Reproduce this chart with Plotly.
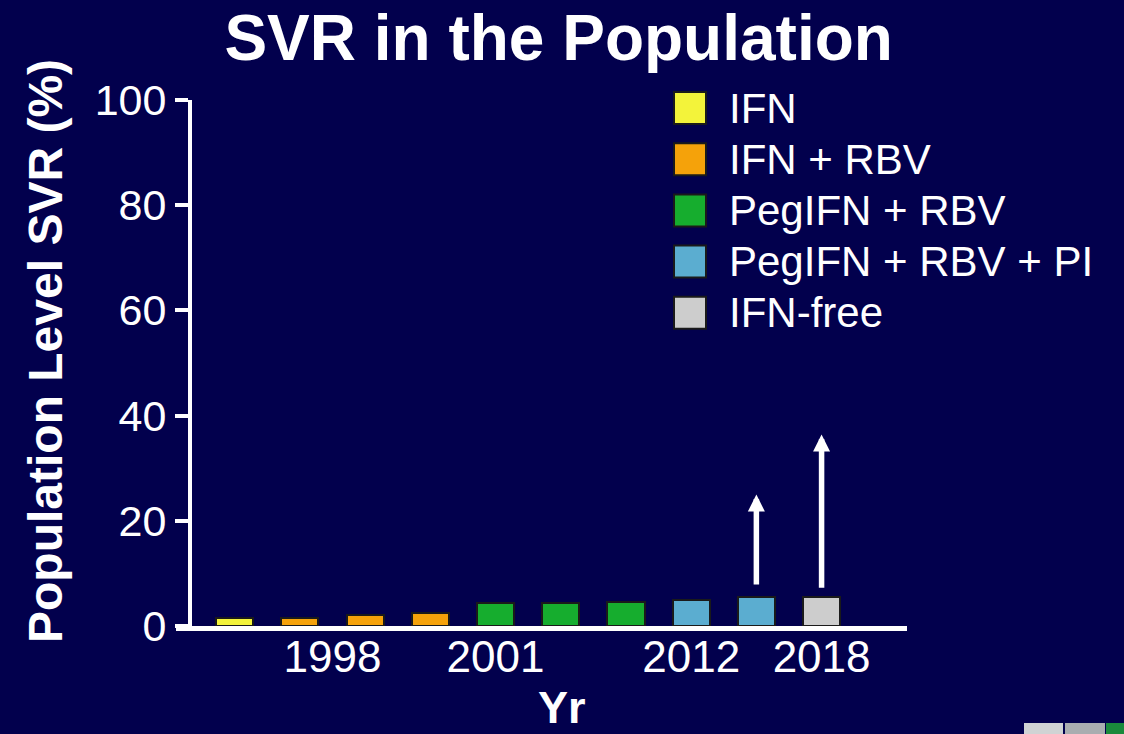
import plotly.graph_objects as go

# bar data
bar_pos = [0, 1, 2, 3, 4, 5, 6, 7, 8, 9]
bar_regimen = ["IFN", "IFN + RBV", "IFN + RBV", "IFN + RBV",
               "PegIFN + RBV", "PegIFN + RBV", "PegIFN + RBV",
               "PegIFN + RBV + PI", "PegIFN + RBV + PI", "IFN-free"]
svr_values = [1.6, 1.5, 2.0, 2.4, 4.4, 4.4, 4.6, 4.9, 5.5, 5.5]

# year tick labels
year_pos = [1.5, 4, 7, 9]
year_labels = ["1998", "2001", "2012", "2018"]

# upward arrows (bar position, start %, end %)
arrow_pos = [8, 9]
arrow_start = [7.6, 7.0]
arrow_end = [25.0, 36.4]

# legend
legend_names = ["IFN", "IFN + RBV", "PegIFN + RBV", "PegIFN + RBV + PI", "IFN-free"]
legend_colors = ["#f3f33a", "#f5a20a", "#16ad2e", "#5badd0", "#cdcdcd"]

BG = "#02004d"
FONT = "Liberation Sans, Arial, sans-serif"
W, H = 1124, 734
L, R, T, B = 176, 907, 100, 626
PW, PH = R - L, B - T


def px_x(px):
    return (px - L) / PW


def px_y(py):
    return (B - py) / PH


color_map = dict(zip(legend_names, legend_colors))

fig = go.Figure()
fig.add_trace(
    go.Bar(
        x=bar_pos,
        y=svr_values,
        width=0.57,
        marker=dict(
            color=[color_map[r] for r in bar_regimen],
            line=dict(color="#1a1a1a", width=2),
        ),
        showlegend=False,
        hoverinfo="skip",
    )
)

# arrows
for xp, y0, y1 in zip(arrow_pos, arrow_start, arrow_end):
    fig.add_annotation(
        x=xp, y=y1, ax=xp, ay=y0,
        xref="x", yref="y", axref="x", ayref="y",
        text="", showarrow=True,
        arrowhead=2, arrowsize=0.62, arrowwidth=5.5,
        arrowcolor="white",
    )

# hand-drawn legend
row_y0 = 108
row_step = 51.2
for i, (name, col) in enumerate(zip(legend_names, legend_colors)):
    cy = row_y0 + i * row_step
    fig.add_shape(
        type="rect", xref="paper", yref="paper",
        x0=px_x(674), x1=px_x(706),
        y0=px_y(cy + 16), y1=px_y(cy - 16),
        fillcolor=col, line=dict(color="#1a1a1a", width=2),
    )
    fig.add_annotation(
        x=px_x(727), y=px_y(cy), xref="paper", yref="paper",
        text=name, showarrow=False, xanchor="left", yanchor="middle",
        font=dict(family=FONT, size=42, color="white"),
    )

# y-axis title
fig.add_annotation(
    x=px_x(45), y=px_y(351), xref="paper", yref="paper",
    text="<b>Population Level SVR (%)</b>", textangle=-90,
    showarrow=False, xanchor="center", yanchor="middle",
    font=dict(family=FONT, size=48, color="white"),
)

# x-axis title
fig.add_annotation(
    x=px_x(562), y=px_y(707), xref="paper", yref="paper",
    text="<b>Yr</b>", showarrow=False, xanchor="center", yanchor="middle",
    font=dict(family=FONT, size=45, color="white"),
)

# logo fragment bottom-right
for x0, x1, col in [(1024, 1063, "#d0d3d4"), (1065, 1105, "#a9adb0"), (1106, 1124, "#1a8a3c")]:
    fig.add_shape(
        type="rect", xref="paper", yref="paper",
        x0=px_x(x0), x1=px_x(x1), y0=px_y(734), y1=px_y(723),
        fillcolor=col, line=dict(width=0),
    )

fig.update_layout(
    width=W, height=H,
    margin=dict(l=L, r=W - R, t=T, b=H - B),
    paper_bgcolor=BG, plot_bgcolor=BG,
    font=dict(family=FONT, color="white"),
    title=dict(
        text="<b>SVR in the Population</b>",
        x=0.497, xanchor="center", y=1 - 38 / H, yanchor="middle",
        yref="container",
        font=dict(family=FONT, size=64, color="white"),
    ),
    bargap=0,
)
fig.update_xaxes(
    range=[-0.9, 10.31],
    tickvals=year_pos, ticktext=year_labels,
    showgrid=False, zeroline=False,
    showline=True, linecolor="white", linewidth=5,
    ticks="", ticklabelstandoff=-12,
    tickfont=dict(family=FONT, size=44, color="white"),
)
fig.update_yaxes(
    range=[0, 100], tickvals=[0, 20, 40, 60, 80, 100],
    anchor="free", position=px_x(190),
    showgrid=False, zeroline=False,
    showline=True, linecolor="white", linewidth=4,
    ticks="outside", ticklen=13, tickwidth=4, tickcolor="white",
    tickfont=dict(family=FONT, size=43, color="white"),
)

fig.write_html(
    "out.html",
    config={"displayModeBar": False},
    post_script="document.body.style.margin='0';"
                "document.body.style.background='" + BG + "';",
)
